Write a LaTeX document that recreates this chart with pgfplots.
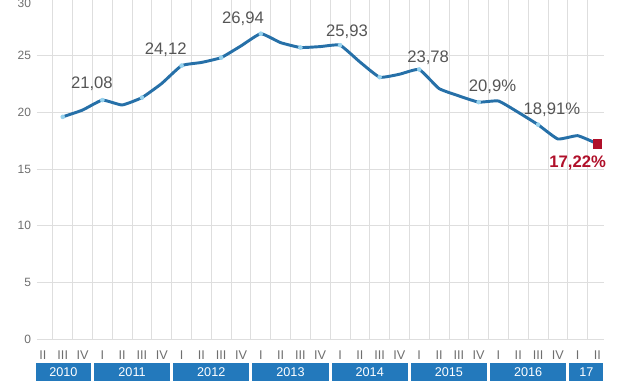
\documentclass[border=0pt]{standalone}
\usepackage{pgfplots}
\pgfplotsset{compat=1.18}
\usepackage{fontspec}
\setmainfont{Liberation Sans}
\definecolor{lineblue}{RGB}{38,112,168}
\definecolor{boxblue}{RGB}{35,121,188}
\definecolor{dotblue}{RGB}{150,210,238}
\definecolor{darkred}{RGB}{176,16,42}
\definecolor{txtgray}{RGB}{85,85,85}
\definecolor{tickgray}{RGB}{110,110,110}
\definecolor{gridgray}{RGB}{222,222,222}
\begin{document}
\begin{tikzpicture}
\useasboundingbox (-27.75pt,-34.5pt) rectangle (439.5pt,254.25pt);
\clip (-27.75pt,-34.5pt) rectangle (439.5pt,254.25pt);
\begin{axis}[
  at={(0pt,0pt)}, anchor=south west,
  scale only axis, width=425.25pt, height=255pt,
  xmin=-0.3, xmax=28.33, ymin=0, ymax=30,
  axis line style={draw=none},
  clip=false,
  xtick={0,...,28},
  xticklabels={II,III,IV,I,II,III,IV,I,II,III,IV,I,II,III,IV,I,II,III,IV,I,II,III,IV,I,II,III,IV,I,II},
  minor xtick={0.5,1.5,...,27.5},
  xminorgrids=true, xmajorgrids=false, ymajorgrids=true,
  ytick={0,5,...,25},
  extra y ticks={30},
  extra y tick style={yticklabel style={yshift=-3pt}},
  major tick length=0pt, minor tick length=0pt,
  grid style={gridgray, line width=0.6pt},
  minor grid style={gridgray, line width=0.6pt},
  tick label style={font=\fontsize{9pt}{10pt}\selectfont, text=tickgray},
  xticklabel style={yshift=-5.5pt, font=\fontsize{9.5pt}{10pt}\selectfont},
  yticklabel style={xshift=-1pt},
  /pgf/number format/assume math mode=true,
]
\addplot[lineblue, line width=2.2pt, line join=round, smooth, tension=0.25] coordinates {
(1,19.6) (2,20.2) (3,21.08) (4,20.65) (5,21.3) (6,22.55) (7,24.12) (8,24.4) (9,24.83) (10,25.86)
(11,26.94) (12,26.15) (13,25.72) (14,25.8) (15,25.93) (16,24.45) (17,23.1) (18,23.36) (19,23.78)
(20,22.1) (21,21.45) (22,20.9) (23,21.0) (24,20.0) (25,18.91) (26,17.65) (27,17.94) (28,17.22)
};
\addplot[only marks, color=dotblue, mark=*, mark size=1.5pt, mark options={draw=dotblue, fill=dotblue}] coordinates {
(1,19.6) (3,21.08) (5,21.3) (7,24.12) (9,24.83) (11,26.94) (13,25.72) (15,25.93) (17,23.1) (19,23.78) (22,20.9) (25,18.91)
};
\addplot[only marks, color=darkred, mark=square*, mark size=3.2pt, mark options={draw=darkred, fill=darkred}] coordinates {(28,17.22)};
\begin{scope}[every node/.style={font=\fontsize{12.5pt}{14pt}\selectfont, text=txtgray}]
\node at (axis cs:2.47,22.5) {21,08};
\node at (axis cs:6.2,25.5) {24,12};
\node at (axis cs:10.1,28.3) {26,94};
\node at (axis cs:15.35,27.1) {25,93};
\node at (axis cs:19.45,24.8) {23,78};
\node at (axis cs:22.7,22.24) {20,9\%};
\node at (axis cs:25.7,20.2) {18,91\%};
\end{scope}
\node[font=\fontsize{12.5pt}{14pt}\selectfont\bfseries, text=darkred] at (axis cs:27.0,15.5) {17,22\%};
% year boxes
\begin{scope}[every node/.style={font=\fontsize{9.5pt}{10pt}\selectfont, text=white}]
\fill[boxblue] (axis cs:-0.35,-2.12) rectangle (axis cs:2.42,-3.71);
\node at (axis cs:1.035,-2.915) {2010};
\fill[boxblue] (axis cs:2.58,-2.12) rectangle (axis cs:6.42,-3.71);
\node at (axis cs:4.5,-2.915) {2011};
\fill[boxblue] (axis cs:6.58,-2.12) rectangle (axis cs:10.42,-3.71);
\node at (axis cs:8.5,-2.915) {2012};
\fill[boxblue] (axis cs:10.58,-2.12) rectangle (axis cs:14.42,-3.71);
\node at (axis cs:12.5,-2.915) {2013};
\fill[boxblue] (axis cs:14.58,-2.12) rectangle (axis cs:18.42,-3.71);
\node at (axis cs:16.5,-2.915) {2014};
\fill[boxblue] (axis cs:18.58,-2.12) rectangle (axis cs:22.42,-3.71);
\node at (axis cs:20.5,-2.915) {2015};
\fill[boxblue] (axis cs:22.58,-2.12) rectangle (axis cs:26.42,-3.71);
\node at (axis cs:24.5,-2.915) {2016};
\fill[boxblue] (axis cs:26.58,-2.12) rectangle (axis cs:28.3,-3.71);
\node at (axis cs:27.44,-2.915) {17};
\end{scope}
\end{axis}
\end{tikzpicture}
\end{document}
